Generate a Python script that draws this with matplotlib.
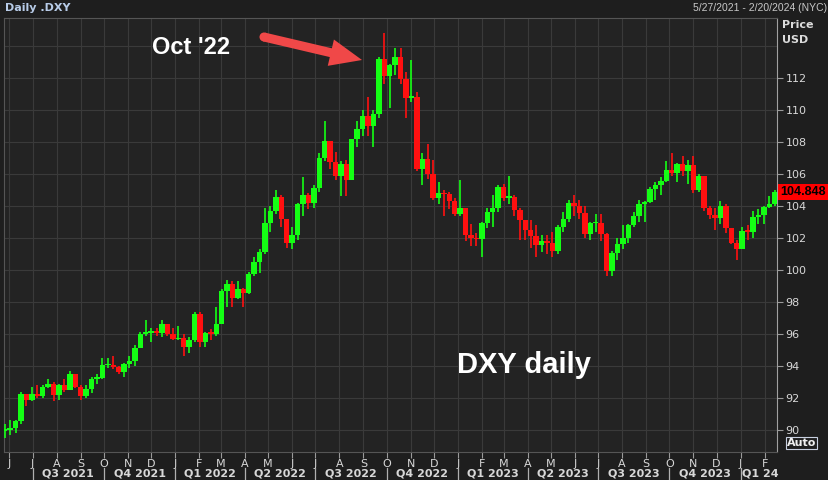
import datetime as dt
import matplotlib
matplotlib.use('Agg')
import matplotlib.pyplot as plt
import matplotlib.dates as mdates
import pandas as pd
from matplotlib.patches import FancyArrow, Circle, Rectangle
from matplotlib.transforms import blended_transform_factory, IdentityTransform

# weekly OHLC (open = previous close)
first_open = 89.95
close_2021 = [90.03, 90.13, 90.55, 92.23, 91.85, 92.23, 92.12, 92.69, 92.90, 92.17,
              92.80, 92.52, 93.49, 92.70, 92.13, 92.58, 93.19, 93.28, 94.04, 94.08,
              93.96, 93.64, 94.12, 94.32, 95.13, 96.03, 96.09, 96.15, 96.09, 96.63,
              96.02, 95.67]
high_2021 = [90.4, 90.6, 90.6, 92.4, 92.1, 92.7, 92.8, 92.8, 93.2, 93.0,
             92.9, 93.2, 93.7, 93.5, 92.8, 92.8, 93.3, 93.5, 94.5, 94.5,
             94.6, 94.0, 94.2, 94.6, 95.3, 96.1, 96.9, 96.4, 96.4, 96.9,
             96.6, 96.4]
low_2021 = [89.5, 89.7, 89.8, 90.4, 91.5, 91.8, 92.0, 92.0, 92.6, 91.8,
            91.9, 92.4, 92.5, 92.6, 91.9, 92.0, 92.3, 92.9, 93.2, 93.9,
            93.8, 93.5, 93.3, 93.9, 94.0, 95.1, 95.9, 95.5, 95.9, 95.8,
            95.9, 95.6]

close_2022 = [95.72, 95.18, 95.64, 97.28, 95.49, 96.06, 96.03, 96.61, 98.66, 99.11,
              98.23, 98.79, 98.58, 99.77, 100.53, 101.12, 102.96, 103.66, 104.56, 103.16,
              101.67, 102.16, 104.15, 104.66, 104.19, 105.13, 107.01, 108.07, 106.73, 105.88,
              106.62, 105.64, 108.16, 108.82, 109.61, 109.01, 109.76, 113.19, 112.12, 112.80,
              113.31, 111.94, 110.75, 110.80, 106.29, 106.92, 106.03, 104.52, 104.81, 104.72,
              104.32, 103.52]
high_2022 = [96.5, 96.0, 95.8, 97.4, 97.4, 96.1, 96.3, 97.7, 98.8, 99.4,
             99.3, 99.3, 98.9, 99.9, 100.8, 101.3, 103.9, 104.0, 105.0, 104.7,
             103.2, 102.7, 104.2, 105.8, 104.8, 105.3, 107.3, 109.3, 107.8, 107.4,
             106.8, 106.9, 108.2, 109.3, 110.0, 110.8, 110.0, 113.3, 114.8, 112.9,
             113.9, 113.9, 112.4, 113.1, 111.1, 107.3, 107.9, 106.9, 105.5, 105.0,
             104.9, 104.5]
low_2022 = [95.6, 94.6, 94.8, 95.5, 95.2, 95.2, 95.6, 95.9, 96.6, 97.7,
            97.7, 98.2, 97.7, 98.5, 99.6, 99.8, 101.0, 102.4, 103.5, 102.7,
            101.4, 101.3, 101.9, 103.4, 103.8, 103.9, 104.9, 106.8, 106.3, 105.6,
            104.6, 104.6, 105.6, 107.7, 108.4, 108.4, 107.7, 109.5, 111.6, 110.1,
            112.2, 111.6, 109.5, 110.5, 106.2, 105.3, 105.7, 104.4, 104.1, 103.4,
            103.8, 103.4]

close_2023 = [103.90, 102.20, 102.01, 101.92, 102.92, 103.63, 103.86, 105.21, 104.52, 104.58,
              103.74, 103.12, 102.51, 102.10, 101.55, 101.82, 101.66, 101.21, 102.70, 103.20,
              104.21, 104.03, 103.55, 102.27, 102.91, 102.92, 102.27, 99.91, 101.08, 101.64,
              102.02, 102.84, 103.38, 104.12, 104.26, 105.08, 105.33, 105.58, 106.22, 106.04,
              106.65, 106.16, 106.56, 105.02, 105.86, 103.87, 103.41, 103.27, 103.99, 102.61,
              101.70, 101.33]
high_2023 = [105.6, 103.9, 102.9, 102.3, 103.0, 103.9, 104.7, 105.3, 105.4, 105.9,
             104.7, 103.9, 103.1, 103.1, 102.8, 102.2, 102.2, 102.4, 102.8, 103.6,
             104.4, 104.7, 104.4, 104.0, 103.0, 103.5, 103.5, 102.3, 101.2, 102.0,
             102.8, 102.9, 103.6, 104.4, 104.3, 105.2, 105.5, 105.8, 106.8, 107.3,
             106.7, 107.1, 106.9, 107.1, 106.0, 105.9, 104.0, 103.9, 104.3, 104.1,
             102.6, 101.9]
low_2023 = [103.4, 101.8, 101.5, 101.5, 100.8, 102.6, 102.7, 103.6, 104.3, 104.1,
            103.4, 101.9, 101.9, 101.4, 100.8, 101.1, 101.0, 100.8, 101.0, 102.4,
            103.0, 103.4, 103.2, 102.0, 101.9, 102.4, 101.8, 99.6, 99.6, 100.6,
            101.3, 101.7, 102.7, 103.0, 103.0, 104.2, 104.4, 104.7, 105.5, 105.9,
            105.5, 105.9, 105.4, 104.8, 104.9, 103.7, 103.2, 102.5, 102.9, 102.3,
            101.6, 100.6]

close_2024 = [102.42, 102.40, 103.29, 103.43, 103.92, 104.11, 104.85]
high_2024 = [102.7, 102.8, 103.7, 103.8, 104.0, 104.6, 104.97]
low_2024 = [101.3, 101.9, 102.0, 102.9, 102.9, 103.9, 104.0]

last_price = 104.848
y_ticks = list(range(90, 114, 2))
month_letters = 'JFMAMJJASOND'

close = close_2021 + close_2022 + close_2023 + close_2024
high = high_2021 + high_2022 + high_2023 + high_2024
low = low_2021 + low_2022 + low_2023 + low_2024
opens = [first_open] + close[:-1]
weeks = pd.date_range('2021-05-28', periods=len(close), freq='W-FRI')
xc = mdates.date2num(weeks.to_pydatetime()) - 2  # centre on Wednesday

BG = '#1e1e1e'
GREEN = '#14ff14'
RED = '#ff1010'

fig = plt.figure(figsize=(8.29, 4.8), dpi=100, facecolor=BG)
ax = fig.add_axes([4 / 829, 28 / 480, 773 / 829, 434 / 480], facecolor='#232323')

for x, o, h, l, c in zip(xc, opens, high, low, close):
    col = GREEN if c >= o else RED
    ax.vlines(x, l, h, color=col, lw=1.2, zorder=3)
    body = max(abs(c - o), 0.1)
    ax.bar(x, body, bottom=min(o, c), width=7, color=col, lw=0, zorder=3)

ax.set_xlim(mdates.date2num(dt.datetime(2021, 5, 25)), mdates.date2num(dt.datetime(2024, 2, 17)))
ax.set_ylim(88.625, 115.75)

# axes styling
ax.yaxis.tick_right()
ax.set_yticks(y_ticks)
ax.set_yticklabels([str(v) for v in y_ticks])
ax.axhline(114, color='#3a3a3a', lw=0.8, zorder=0)
months = pd.date_range('2021-06-01', '2024-02-01', freq='MS')
ax.set_xticks(mdates.date2num(months.to_pydatetime()))
ax.set_xticklabels([month_letters[m.month - 1] for m in months])
ax.tick_params(axis='both', colors='#9a9a9a', labelcolor='#d8d8d8', labelsize=8, length=4, width=0.8)
ax.tick_params(axis='x', pad=1)
ax.tick_params(axis='y', pad=2)
for lab in ax.get_xticklabels() + ax.get_yticklabels():
    lab.set_family('DejaVu Sans')
ax.grid(True, color='#3a3a3a', lw=0.8)
ax.set_axisbelow(True)
for side in ['left', 'top', 'bottom']:
    ax.spines[side].set_color('#555555')
ax.spines['right'].set_color('#a0a0a0')

# quarter labels
tr = blended_transform_factory(ax.transData, ax.transAxes)
quarters = pd.date_range('2021-07-01', '2024-01-01', freq='QS')
for i, q in enumerate(quarters):
    qx = mdates.date2num(q.to_pydatetime())
    ax.plot([qx, qx], [-0.036, -0.066], transform=tr, color='#b0b0b0', lw=0.9, clip_on=False)
    qn = (q.month - 1) // 3 + 1
    if i < len(quarters) - 1:
        nx = mdates.date2num(quarters[i + 1].to_pydatetime())
        ax.text((qx + nx) / 2, -0.049, f'Q{qn} {q.year}', transform=tr, ha='center', va='center',
                color='#d8d8d8', fontsize=8, fontweight='bold')
    else:
        ax.text(qx + 2, -0.049, f'Q{qn} {q.year % 100}', transform=tr, ha='left', va='center',
                color='#d8d8d8', fontsize=8, fontweight='bold')

# header texts
fig.text(5 / 829, 1 - 8 / 480, 'Daily .DXY', color='#b8cce8', fontsize=8, fontweight='bold', va='center')
fig.text(827 / 829, 1 - 8 / 480, '5/27/2021 - 2/20/2024 (NYC)', color='#c8c8c8', fontsize=7.5,
         ha='right', va='center', family='Liberation Sans')
fig.text(782 / 829, 1 - 25 / 480, 'Price', color='#dcdcdc', fontsize=8, fontweight='bold', va='center')
fig.text(782 / 829, 1 - 40 / 480, 'USD', color='#dcdcdc', fontsize=8, fontweight='bold', va='center')

# last price tag: red box from the axis to the right edge
tag_y = ax.transData.transform((0, last_price))[1]
fig.add_artist(Rectangle((778, tag_y - 8), 52, 16, fc='#ff0000', ec='none',
                         transform=IdentityTransform(), zorder=5))
fig.text(780 / 829, tag_y / 480, f'{last_price:.3f}', ha='left', va='center', zorder=6,
         fontsize=9, fontweight='bold', color='black', family='Liberation Sans')

fig.text(787 / 829, 1 - 443 / 480, 'Auto', color='#f0f0f0', fontsize=8, fontweight='bold', va='center',
         bbox=dict(boxstyle='square,pad=0.1', fc=BG, ec='#c8d0e0', lw=0.8))

# annotations
fig.text(152 / 829, 1 - 47 / 480, "Oct '22", color='white', fontsize=17, fontweight='bold',
         va='center', family='Liberation Sans')
fig.text(457 / 829, 1 - 365 / 480, 'DXY daily', color='white', fontsize=21, fontweight='bold',
         va='center', family='Liberation Sans')
arrow = FancyArrow(264, 443, 98, -23, width=9, head_width=27, head_length=32,
                   length_includes_head=True, color='#f04848', lw=0, transform=IdentityTransform())
fig.add_artist(arrow)
fig.add_artist(Circle((264, 443), 4.5, color='#f04848', lw=0, transform=IdentityTransform()))

fig.savefig('out.png', dpi=100, facecolor=BG)
